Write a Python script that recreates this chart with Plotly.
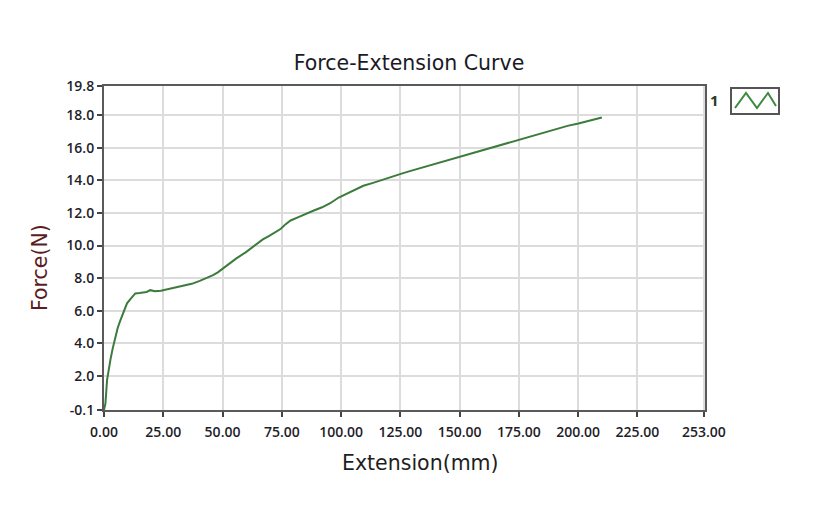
import plotly.graph_objects as go

# Data
extension = [0.0, 0.6, 1.3, 2.0, 2.7, 3.7, 4.8, 5.8, 6.9, 8.3, 9.7, 11.4, 13.2, 15.0, 16.7, 18.0,
             19.5, 21.5, 24.0, 26.4, 30.0, 33.4, 37.0, 40.4, 43.0, 46.0, 48.0, 50.1, 53.0,
             55.7, 59.9, 62.5, 64.8, 67.0, 69.7, 72.0, 74.6, 76.5, 78.7, 82.0, 85.0, 88.5,
             92.0, 95.4, 99.0, 102.4, 106.0, 109.4, 113.5, 117.9, 121.5, 125.2, 129.0,
             133.3, 137.5, 141.8, 146.0, 150.2, 154.5, 158.6, 163.0, 167.0, 171.0, 175.2,
             179.0, 182.6, 187.0, 191.0, 195.5, 200.1, 205.0, 210.0]
force = [-0.1, 0.3, 1.75, 2.5, 2.98, 3.7, 4.4, 4.95, 5.4, 5.95, 6.45, 6.75, 7.06, 7.08, 7.12, 7.15,
         7.26, 7.2, 7.22, 7.3, 7.38, 7.5, 7.65, 7.83, 7.98, 8.18, 8.35, 8.59, 8.9,
         9.2, 9.6, 9.9, 10.15, 10.38, 10.6, 10.8, 11.03, 11.3, 11.54, 11.75, 11.95, 12.15,
         12.35, 12.6, 12.95, 13.2, 13.45, 13.67, 13.85, 14.04, 14.22, 14.4, 14.57,
         14.75, 14.92, 15.1, 15.28, 15.46, 15.65, 15.83, 16.0, 16.18, 16.35, 16.53,
         16.69, 16.85, 17.03, 17.2, 17.35, 17.5, 17.68, 17.87]

x_tickvals = [0, 25, 50, 75, 100, 125, 150, 175, 200, 225, 253]
x_ticktext = ["0.00", "25.00", "50.00", "75.00", "100.00", "125.00", "150.00",
              "175.00", "200.00", "225.00", "253.00"]
y_tickvals = [-0.1, 2, 4, 6, 8, 10, 12, 14, 16, 18, 19.8]
y_ticktext = ["-0.1", "2.0", "4.0", "6.0", "8.0", "10.0", "12.0", "14.0", "16.0", "18.0", "19.8"]

fig = go.Figure()
fig.add_trace(go.Scatter(x=extension, y=force, mode="lines",
                         line=dict(color="#3b7b3b", width=2), name="1", showlegend=False))

W0, W1 = 104, 705
H0, H1 = 86, 410

def px(xp):
    return (xp - W0) / (W1 - W0)

def py(yp):
    return (H1 - yp) / (H1 - H0)

tickfont = dict(family="Open Sans", size=14, color="#1e1e2a", weight=600)

fig.update_layout(
    width=830, height=513,
    margin=dict(l=W0, r=830 - W1, t=H0, b=513 - H1),
    paper_bgcolor="white", plot_bgcolor="white",
    title=dict(text="Force-Extension Curve", xref="container", x=409 / 830, xanchor="center",
               yref="container", y=1 - 63 / 513, yanchor="middle",
               font=dict(family="DejaVu Sans", size=20.5, color="#1a1a26")),
    xaxis=dict(range=[0, 253.5], tickvals=x_tickvals, ticktext=x_ticktext,
               showgrid=True, gridcolor="#dcdcdc", gridwidth=1.5,
               showline=True, linecolor="#5a5a5a", linewidth=2, mirror=True,
               ticks="outside", ticklen=5, tickcolor="#444", tickwidth=1.5,
               tickfont=tickfont, zeroline=False, ticklabelstandoff=3),
    yaxis=dict(range=[-0.1, 19.8], tickvals=y_tickvals, ticktext=y_ticktext,
               showgrid=True, gridcolor="#dcdcdc", gridwidth=1.5,
               showline=True, linecolor="#5a5a5a", linewidth=2, mirror=True,
               ticks="outside", ticklen=5, tickcolor="#444", tickwidth=1.5,
               tickfont=tickfont, zeroline=False),
)

# Axis titles (placed as in the reference, slightly off-centre)
fig.add_annotation(text="Extension(mm)", xref="paper", yref="paper", x=px(420), y=py(463),
                   xanchor="center", yanchor="middle", showarrow=False,
                   font=dict(family="DejaVu Sans", size=20.5, color="#1e1e1e"))
fig.add_annotation(text="Force(N)", xref="paper", yref="paper", x=px(40), y=py(268),
                   xanchor="center", yanchor="middle", showarrow=False, textangle=-90,
                   font=dict(family="DejaVu Sans", size=20.5, color="#5a1c1c"))

# Legend-like glyph (box with zigzag line) and label "1"
fig.add_shape(type="rect", xref="paper", yref="paper",
              x0=px(731), x1=px(779), y0=py(114), y1=py(88),
              line=dict(color="#555", width=2), fillcolor="white")
zig = [(735, 108), (746, 93), (757, 108), (768, 93), (776, 106)]
path = "M " + " L ".join(f"{px(a):.4f},{py(b):.4f}" for a, b in zig)
fig.add_shape(type="path", xref="paper", yref="paper", path=path,
              line=dict(color="#3d8a3d", width=2))
fig.add_annotation(text="1", xref="paper", yref="paper", x=px(714), y=py(100),
                   xanchor="center", yanchor="middle",
                   showarrow=False, font=dict(family="Open Sans", size=15, color="#2a3a2a", weight=700))

fig.write_html("out.html")
